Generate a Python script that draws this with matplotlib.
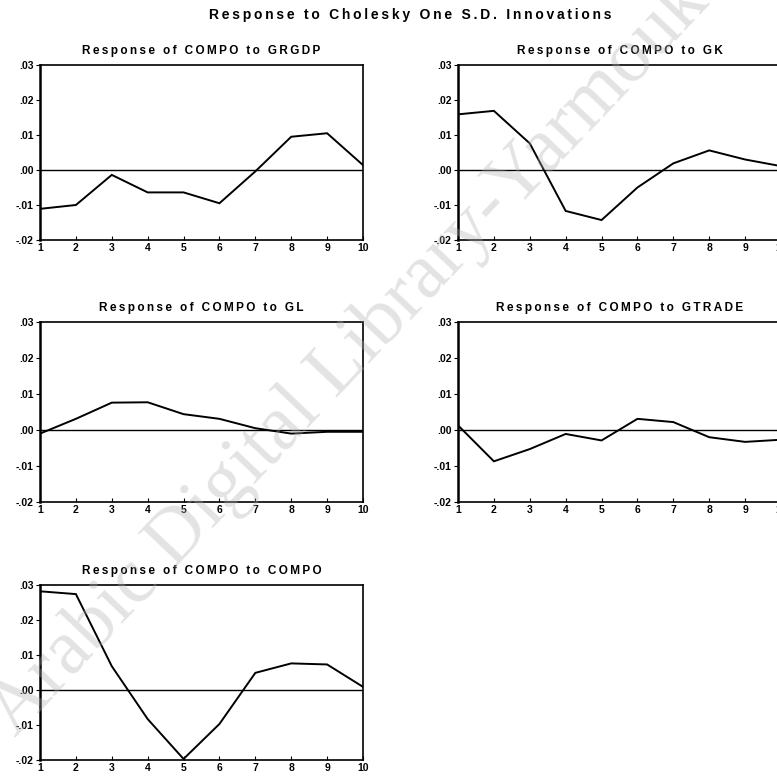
import matplotlib

matplotlib.use("Agg")
import matplotlib.pyplot as plt
from matplotlib.ticker import FuncFormatter

plt.rcParams["font.family"] = ["Liberation Sans", "DejaVu Sans"]

PERIODS = [1, 2, 3, 4, 5, 6, 7, 8, 9, 10]

# impulse responses of COMPO to a one S.D. shock in each variable
RESP_GRGDP = [-0.0111, -0.0100, -0.0014, -0.0064, -0.0064, -0.0095, -0.0004, 0.0095, 0.0105, 0.0014]
RESP_GK = [0.0159, 0.0169, 0.0076, -0.0117, -0.0143, -0.0050, 0.0019, 0.0056, 0.0030, 0.0011]
RESP_GL = [-0.0010, 0.0031, 0.0076, 0.0077, 0.0044, 0.0031, 0.0005, -0.0010, -0.0005, -0.0005]
RESP_GTRADE = [0.0013, -0.0087, -0.0053, -0.0011, -0.0029, 0.0031, 0.0022, -0.0020, -0.0033, -0.0027]
RESP_COMPO = [0.0282, 0.0274, 0.0068, -0.0083, -0.0197, -0.0097, 0.0049, 0.0076, 0.0073, 0.0009]

SHOCKS = ["GRGDP", "GK", "GL", "GTRADE", "COMPO"]
SERIES = [RESP_GRGDP, RESP_GK, RESP_GL, RESP_GTRADE, RESP_COMPO]
Y_TICKS = [-0.02, -0.01, 0.00, 0.01, 0.02, 0.03]

W, H = 777, 783
# axes boxes in pixels: left, top, right, bottom (right column runs off the page)
BOXES = [
    (40, 65, 363, 240),
    (458, 65, 781, 240),
    (40, 322, 363, 502),
    (458, 322, 781, 502),
    (40, 585, 363, 760),
]


def fmt_tick(v, _pos):
    return f"{v:.2f}".replace("0.", ".", 1)


def spaced(s):
    # wide letter tracking, as in the EViews-style headings
    return "\u2009".join(s)


fig = plt.figure(figsize=(W / 100, H / 100), dpi=100)

for shock, resp, (l, t, r, b) in zip(SHOCKS, SERIES, BOXES):
    ax = fig.add_axes([l / W, 1 - b / H, (r - l) / W, (b - t) / H])
    ax.plot(PERIODS, resp, color="black", linewidth=1.4, solid_joinstyle="miter")
    ax.axhline(0, color="black", linewidth=1.0)
    ax.set_xlim(1, 10)
    ax.set_ylim(-0.02, 0.03)
    ax.set_xticks(PERIODS)
    ax.set_yticks(Y_TICKS)
    ax.yaxis.set_major_formatter(FuncFormatter(fmt_tick))
    ax.tick_params(axis="x", direction="in", length=3, width=0.8, pad=2,
                   labelsize=7.5)
    ax.tick_params(axis="y", direction="out", length=3, width=0.8, pad=1.5,
                   labelsize=7.5)
    for lab in ax.get_xticklabels() + ax.get_yticklabels():
        lab.set_fontweight("bold")
    for side in ("top", "right", "bottom"):
        ax.spines[side].set_linewidth(1.2)
    ax.spines["left"].set_linewidth(1.8)
    ax.set_title(spaced(f"Response of COMPO to {shock}"), fontsize=8.5,
                 fontweight="bold", pad=8)

fig.text(410 / W, 1 - 15 / H, spaced("Response to Cholesky One S.D. Innovations"),
         ha="center", va="center", fontsize=10, fontweight="bold")

# faint library stamp across the page
fig.text(0.45, 0.543, "Arabic Digital Library-Yarmouk", rotation=46.5,
         ha="center", va="center", fontsize=56, family="Liberation Serif",
         color="#b0b0b0", alpha=0.35, zorder=10)

fig.savefig("out.png", dpi=100)
